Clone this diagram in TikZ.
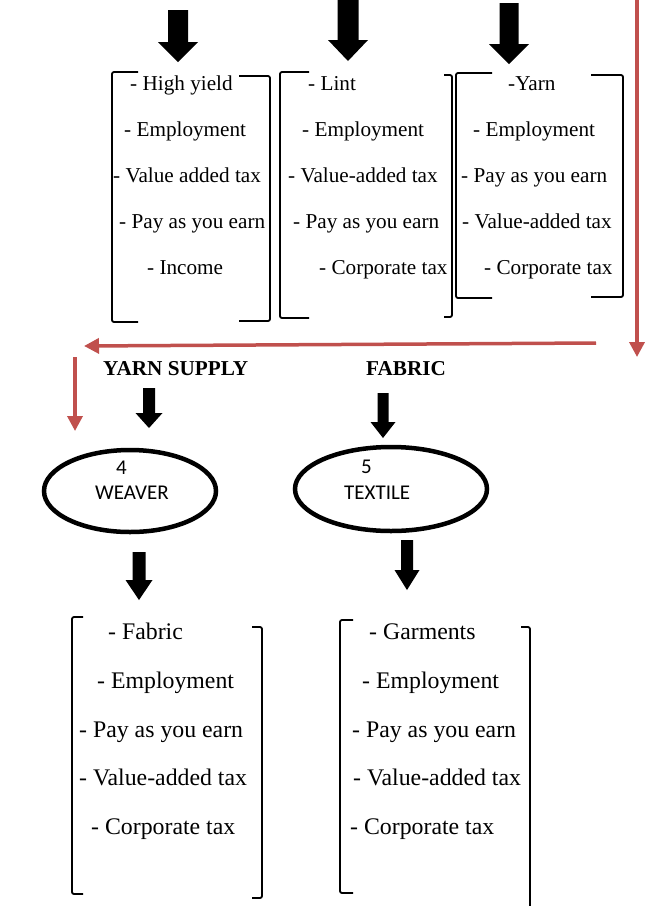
\documentclass[tikz,border=0pt]{standalone}
\usepackage{fontspec}
\setmainfont{Liberation Serif}
\newfontfamily\calfont{Carlito}
\usetikzlibrary{arrows.meta,shapes.geometric}
\definecolor{redarr}{RGB}{192,80,77}
\newcommand\blockarr[6]{%
  \fill (#1-#5,#2) -- (#1+#5,#2) -- (#1+#5,#3) -- (#1+#6,#3) -- (#1,#4) -- (#1-#6,#3) -- (#1-#5,#3) -- cycle;}
\newcommand\lbrk[4]{\draw[brk] (#4,#2) -- (#1,#2) -- (#1,#3) -- (#4,#3);}
\newcommand\rbrk[4]{\draw[brk] (#4,#2) -- (#1,#2) -- (#1,#3) -- (#4,#3);}
\begin{document}
\begin{tikzpicture}[x=1pt,y=-1pt,
  brk/.style={line width=1.8pt,rounded corners=2pt},
  txt/.style={anchor=base west,inner sep=0pt,font=\fontsize{21.2}{24}\selectfont},
  txtb/.style={anchor=base west,inner sep=0pt,font=\fontsize{23.8}{27}\selectfont},
  lbl/.style={anchor=base west,inner sep=0pt,font=\fontsize{21.2}{24}\selectfont\bfseries},
  etxt/.style={anchor=base west,inner sep=0pt,font=\fontsize{21}{24}\selectfont\calfont},
  oval/.style={ellipse,draw,line width=4.5pt,inner sep=0pt},
  redarrow/.style={draw=redarr,line width=3.5pt,-{Triangle[length=15pt,width=15pt]}}]
\useasboundingbox (0,0) rectangle (645,906);
% top block arrows
\blockarr{178}{10}{42}{62}{10}{20}
\blockarr{348}{0}{40}{61}{10.5}{20}
\blockarr{509}{3}{44}{64}{9.5}{20}
% top brackets
\lbrk{112}{72}{322}{138}
\rbrk{270}{76}{321}{239}
\lbrk{280}{72}{318}{309}
\rbrk{452}{75}{317}{444}
\lbrk{456}{73}{298}{492}
\rbrk{623}{75}{297}{591}
% box 1 texts
\node[txt] (a1) at (130,90) {- High yield};
\node[txt] (a2) at (124,136) {- Employment};
\node[txt] (a3) at (113,182) {- Value added tax};
\node[txt] (a4) at (119,228) {- Pay as you earn};
\node[txt] (a5) at (147,274) {- Income};
% box 2 texts
\node[txt] (b1) at (308,90) {- Lint};
\node[txt] (b2) at (302,136) {- Employment};
\node[txt] (b3) at (288,182) {- Value-added tax};
\node[txt] (b4) at (293,228) {- Pay as you earn};
\node[txt] (b5) at (319,274) {- Corporate tax};
% box 3 texts
\node[txt] (c1) at (508,90) {-Yarn};
\node[txt] (c2) at (473,136) {- Employment};
\node[txt] (c3) at (461,182) {- Pay as you earn};
\node[txt] (c4) at (462,228) {- Value-added tax};
\node[txt] (c5) at (484,274) {- Corporate tax};
% red arrows
\coordinate (r1s) at (637,0);
\coordinate (r1e) at (637,357);
\coordinate (r2s) at (596,343);
\coordinate (r2e) at (84,346);
\coordinate (r3s) at (75,357);
\coordinate (r3e) at (75,431);
\draw[redarrow] (r1s) -- (r1e);
\draw[redarrow] (r2s) -- (r2e);
\draw[redarrow] (r3s) -- (r3e);
% labels
\node[lbl] (ys) at (103,375) {YARN SUPPLY};
\node[lbl] (fb) at (366,375) {FABRIC};
\blockarr{149}{388}{413}{428}{6}{13.5}
\blockarr{383}{393}{422}{438}{5.5}{12.5}
% ellipses
\node[oval,minimum width=172pt,minimum height=82pt] (weaver) at (130,491) {};
\node[oval,minimum width=192pt,minimum height=84pt] (textile) at (391,489) {};
\node[etxt] (w4) at (116,474) {4};
\node[etxt] (wn) at (95,499) {WEAVER};
\node[etxt] (t5) at (361,473) {5};
\node[etxt] (tn) at (344,499) {TEXTILE};
\blockarr{139}{552}{580}{600}{6.5}{13.5}
\blockarr{407}{540}{570}{590}{6}{12.5}
% bottom brackets
\lbrk{72}{617}{894}{83}
\rbrk{262}{627}{898}{252}
\lbrk{340}{620}{893}{353}
\rbrk{530}{627}{910}{521}
% box 4 texts
\node[txtb] (d1) at (108,639) {- Fabric};
\node[txtb] (d2) at (97,688) {- Employment};
\node[txtb] (d3) at (79,737) {- Pay as you earn};
\node[txtb] (d4) at (79,785) {- Value-added tax};
\node[txtb] (d5) at (91,834) {- Corporate tax};
% box 5 texts
\node[txtb] (e1) at (369,639) {- Garments};
\node[txtb] (e2) at (362,688) {- Employment};
\node[txtb] (e3) at (352,737) {- Pay as you earn};
\node[txtb] (e4) at (353,785) {- Value-added tax};
\node[txtb] (e5) at (350,834) {- Corporate tax};
\end{tikzpicture}
\end{document}
